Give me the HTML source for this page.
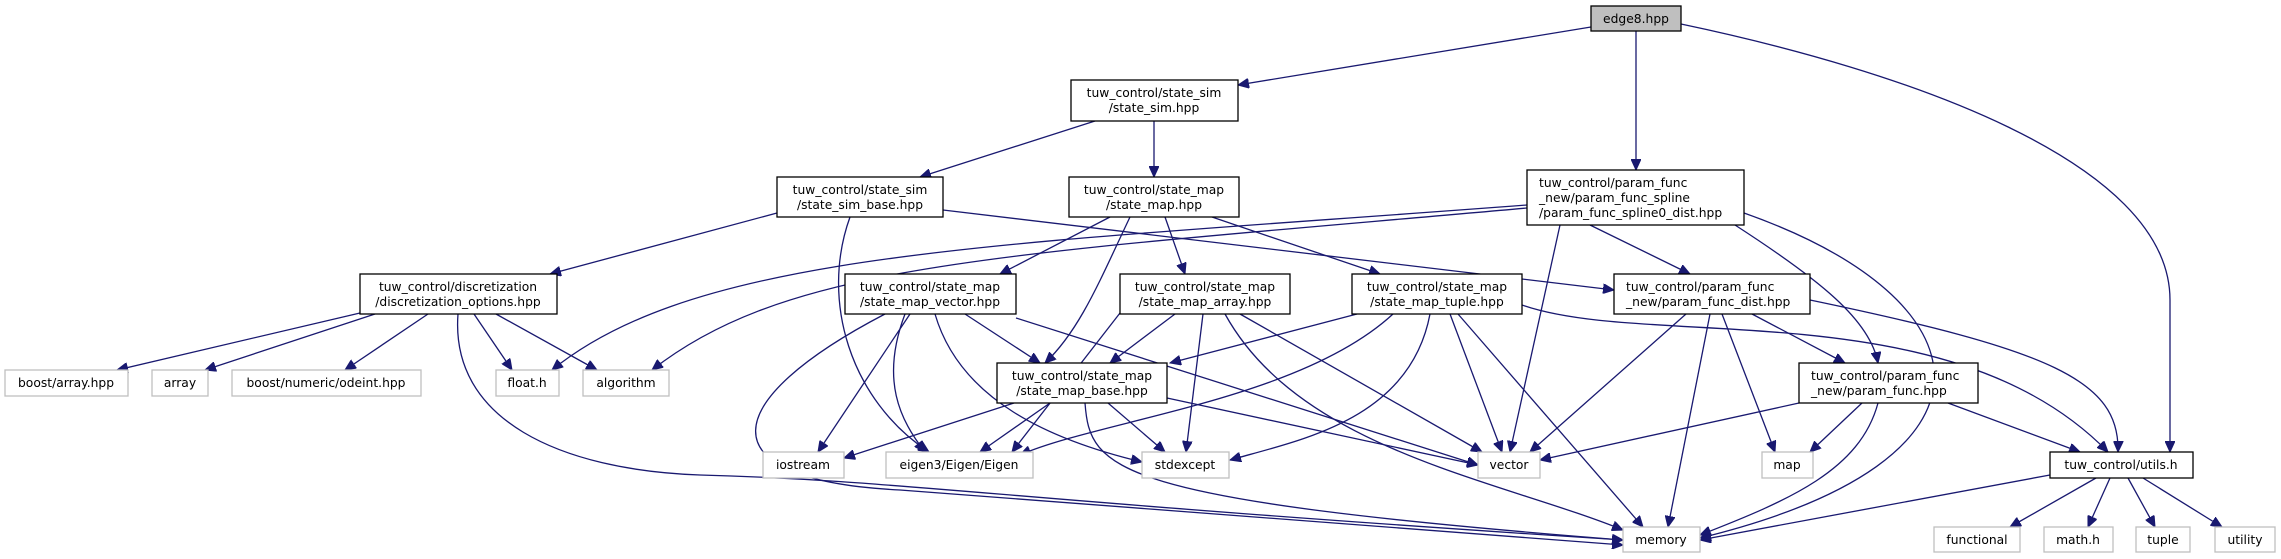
<!DOCTYPE html>
<html><head><meta charset="utf-8"><style>
html,body{margin:0;padding:0;background:#fff}
svg{display:block}
text{font-family:"DejaVu Sans","Liberation Sans",sans-serif;font-size:12.3px;fill:#000}
.n{fill:#fff;stroke:#000;stroke-width:1.3}
.l{fill:#fff;stroke:#bfbfbf;stroke-width:1.3}
.e{fill:none;stroke:#191970;stroke-width:1.3}
</style></head><body>
<svg width="2281" height="559" viewBox="0 0 2281 559" xmlns="http://www.w3.org/2000/svg">
<defs><marker id="a" markerUnits="userSpaceOnUse" markerWidth="12" markerHeight="10" refX="11" refY="5" orient="auto"><path d="M0,0 L11,5 L0,10 z" fill="#191970" stroke="#191970"/></marker></defs>
<g class="e" marker-end="url(#a)">
<path d="M1591,27 L1238,85"/>
<path d="M1636,31 L1636,170"/>
<path d="M1681,24 C1900,70 2170,160 2170,300 L2170,452"/>
<path d="M1095,121 L920,177"/>
<path d="M1154,121 L1154,177"/>
<path d="M777,213 L550,274"/>
<path d="M850,217 C820,300 850,400 929,452"/>
<path d="M943,210 L1614,290"/>
<path d="M1110,217 L1000,274"/>
<path d="M1130,217 C1100,280 1080,330 1045,363"/>
<path d="M1165,217 L1185,274"/>
<path d="M1212,217 L1380,274"/>
<path d="M1527,205 C1000,245 700,250 552,370"/>
<path d="M1527,208 C1000,255 790,262 652,370"/>
<path d="M1560,225 L1510,452"/>
<path d="M1590,225 L1690,274"/>
<path d="M1735,225 C1820,280 1870,320 1878,363"/>
<path d="M1744,213 C1990,300 2020,460 1700,538"/>
<path d="M360,313 L117,370"/>
<path d="M375,314 L205,370"/>
<path d="M428,314 L345,370"/>
<path d="M474,314 L512,370"/>
<path d="M496,314 L597,370"/>
<path d="M458,314 C450,420 560,470 700,475 C900,480 1000,500 1623,540"/>
<path d="M910,314 L818,452"/>
<path d="M905,314 C880,380 900,420 925,452"/>
<path d="M965,314 L1040,363"/>
<path d="M935,314 C960,400 1050,440 1142,462"/>
<path d="M1016,318 L1478,465"/>
<path d="M885,314 C720,400 700,480 900,490 L1623,545"/>
<path d="M1120,313 L1012,452"/>
<path d="M1175,314 L1110,363"/>
<path d="M1203,314 L1186,452"/>
<path d="M1240,314 L1482,452"/>
<path d="M1225,314 C1300,450 1500,480 1623,530"/>
<path d="M1357,314 L1170,363"/>
<path d="M1393,314 C1300,400 1100,420 1020,455"/>
<path d="M1430,314 C1410,420 1300,440 1230,460"/>
<path d="M1450,314 L1502,452"/>
<path d="M1458,314 L1643,527"/>
<path d="M1522,305 C1650,350 1950,290 2108,452"/>
<path d="M1686,314 L1530,452"/>
<path d="M1710,314 L1668,527"/>
<path d="M1722,314 L1775,452"/>
<path d="M1752,314 L1845,363"/>
<path d="M1810,300 C2050,350 2120,380 2118,452"/>
<path d="M1014,403 L844,458"/>
<path d="M1050,403 L980,452"/>
<path d="M1108,403 L1165,452"/>
<path d="M1167,398 L1478,465"/>
<path d="M1085,403 C1090,470 1110,500 1623,540"/>
<path d="M1799,403 L1540,460"/>
<path d="M1862,403 L1810,452"/>
<path d="M1878,403 C1860,470 1790,500 1700,535"/>
<path d="M1948,403 L2080,452"/>
<path d="M2050,475 L1700,540"/>
<path d="M2096,478 L2010,527"/>
<path d="M2110,478 L2088,527"/>
<path d="M2128,478 L2155,527"/>
<path d="M2143,478 L2222,527"/>
</g>
<rect x="1591" y="6" width="90" height="25" fill="#bfbfbf" stroke="#000" stroke-width="1.3"/>
<text x="1636" y="23" text-anchor="middle">edge8.hpp</text>
<g class="n">
<rect x="1071" y="80" width="167" height="41"/>
<rect x="777" y="177" width="166" height="40"/>
<rect x="1069" y="177" width="170" height="40"/>
<rect x="1527" y="170" width="217" height="55"/>
<rect x="360" y="274" width="197" height="40"/>
<rect x="845" y="274" width="171" height="40"/>
<rect x="1120" y="274" width="170" height="40"/>
<rect x="1352" y="274" width="170" height="40"/>
<rect x="1614" y="274" width="196" height="40"/>
<rect x="997" y="363" width="170" height="40"/>
<rect x="1799" y="363" width="179" height="40"/>
<rect x="2050" y="452" width="143" height="26"/>
</g>
<g class="l">
<rect x="5" y="370" width="123" height="26"/>
<rect x="152" y="370" width="56" height="26"/>
<rect x="232" y="370" width="189" height="26"/>
<rect x="496" y="370" width="63" height="26"/>
<rect x="583" y="370" width="86" height="26"/>
<rect x="763" y="452" width="81" height="26"/>
<rect x="886" y="452" width="147" height="26"/>
<rect x="1142" y="452" width="87" height="26"/>
<rect x="1478" y="452" width="62" height="26"/>
<rect x="1762" y="452" width="51" height="26"/>
<rect x="1623" y="527" width="77" height="25"/>
<rect x="1934" y="527" width="86" height="25"/>
<rect x="2044" y="527" width="69" height="25"/>
<rect x="2136" y="527" width="54" height="25"/>
<rect x="2215" y="527" width="60" height="25"/>
</g>
<g text-anchor="middle">
<text x="1154" y="97">tuw_control/state_sim</text><text x="1154" y="112">/state_sim.hpp</text>
<text x="860" y="194">tuw_control/state_sim</text><text x="860" y="209">/state_sim_base.hpp</text>
<text x="1154" y="194">tuw_control/state_map</text><text x="1154" y="209">/state_map.hpp</text>
<text x="458" y="291">tuw_control/discretization</text><text x="458" y="306">/discretization_options.hpp</text>
<text x="930" y="291">tuw_control/state_map</text><text x="930" y="306">/state_map_vector.hpp</text>
<text x="1205" y="291">tuw_control/state_map</text><text x="1205" y="306">/state_map_array.hpp</text>
<text x="1437" y="291">tuw_control/state_map</text><text x="1437" y="306">/state_map_tuple.hpp</text>
<text x="1082" y="380">tuw_control/state_map</text><text x="1082" y="395">/state_map_base.hpp</text>
<text x="2121" y="469">tuw_control/utils.h</text>
<text x="66" y="387">boost/array.hpp</text>
<text x="180" y="387">array</text>
<text x="326" y="387">boost/numeric/odeint.hpp</text>
<text x="527" y="387">float.h</text>
<text x="626" y="387">algorithm</text>
<text x="803" y="469">iostream</text>
<text x="959" y="469">eigen3/Eigen/Eigen</text>
<text x="1185" y="469">stdexcept</text>
<text x="1509" y="469">vector</text>
<text x="1787" y="469">map</text>
<text x="1661" y="544">memory</text>
<text x="1977" y="544">functional</text>
<text x="2078" y="544">math.h</text>
<text x="2163" y="544">tuple</text>
<text x="2245" y="544">utility</text>
</g>
<text x="1539" y="187">tuw_control/param_func</text>
<text x="1539" y="202">_new/param_func_spline</text>
<text x="1539" y="217">/param_func_spline0_dist.hpp</text>
<text x="1626" y="291">tuw_control/param_func</text>
<text x="1626" y="306">_new/param_func_dist.hpp</text>
<text x="1811" y="380">tuw_control/param_func</text>
<text x="1811" y="395">_new/param_func.hpp</text>
</svg>
</body></html>
